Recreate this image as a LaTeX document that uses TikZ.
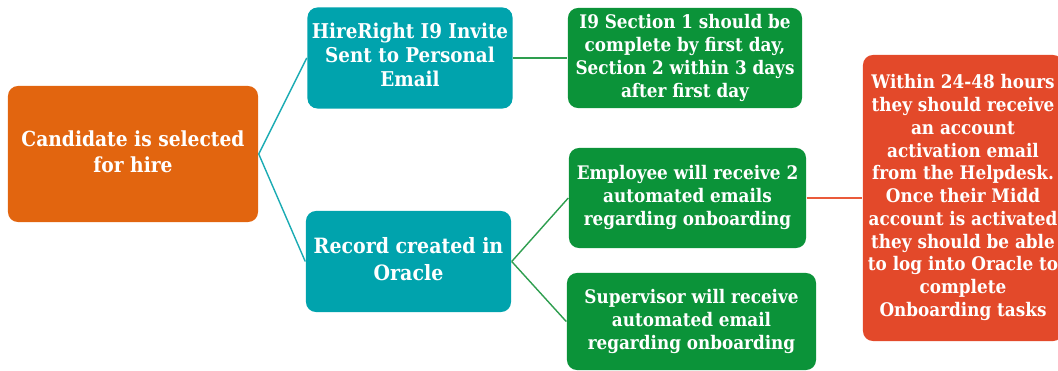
\documentclass[tikz,border=0pt]{standalone}
\usepackage{fontspec}
\setmainfont{DejaVu Serif Condensed}
\usepackage{tikz}
\usetikzlibrary{positioning,calc}

\setlength{\tabcolsep}{0pt}

\definecolor{candorange}{HTML}{E2650F}
\definecolor{stepteal}{HTML}{00A3AD}
\definecolor{notegreen}{HTML}{0B9339}
\definecolor{alertred}{HTML}{E3492A}
\definecolor{tealline}{HTML}{1AABB3}
\definecolor{greenline}{HTML}{2E9E4F}
\definecolor{redline}{HTML}{EA5A3A}

\tikzset{
    box/.style={rounded corners=0.25cm, text=white, inner sep=0pt, align=center},
    startbox/.style={box, fill=candorange, minimum width=6.25cm, minimum height=3.4cm,
        font=\bfseries\fontsize{14.75}{18.4}\selectfont},
    stepbox/.style={box, fill=stepteal, minimum width=5.125cm, minimum height=2.525cm,
        font=\bfseries\fontsize{14.5}{17}\selectfont},
    notebox/.style={box, fill=notegreen, minimum height=2.5cm,
        font=\bfseries\fontsize{13.3}{16.4}\selectfont},
    alertbox/.style={box, fill=alertred, minimum width=5cm, minimum height=7.15cm,
        font=\bfseries\fontsize{13.3}{16.2}\selectfont},
}

\begin{document}
\begin{tikzpicture}[x=0.025cm, y=-0.025cm, line width=1pt]

    \path[use as bounding box, clip] (0,0) rectangle (1058,370);

    \node[startbox] (cand) at (133,154) {\begin{tabular}{c} Candidate is selected \\ for hire \end{tabular}};

    \node[stepbox] (hire) at (410,58) {\begin{tabular}{c} HireRight I9 Invite \\ Sent to Personal \\ Email \end{tabular}};
    \node[stepbox, font=\bfseries\fontsize{15}{19}\selectfont] (rec) at (408.5,261.5) {\begin{tabular}{c} Record created in \\ Oracle \end{tabular}};

    \node[notebox, minimum width=5.85cm] (inv) at (685,58) {\begin{tabular}{c} I9 Section 1 should be \\ complete by first day, \\ Section 2 within 3 days \\ after first day \end{tabular}};
    \node[notebox, minimum width=5.925cm] (emp) at (687.5,198) {\begin{tabular}{c} Employee will receive 2 \\ automated emails \\ regarding onboarding \end{tabular}};
    \node[notebox, minimum width=6.225cm, minimum height=2.425cm] (sup) at (691.5,321.5) {\begin{tabular}{c} Supervisor will receive \\ automated email \\ regarding onboarding \end{tabular}};

    % text runs past the box sides here
    \node[alertbox] (act) at (963,198) {\makebox[5cm]{\begin{tabular}{c} Within 24-48 hours \\ they should receive \\ an account \\ activation email \\ from the Helpdesk. \\ Once their Midd \\ account is activated \\ they should be able \\ to log into Oracle to \\ complete \\ Onboarding tasks \end{tabular}}};

    % links between the boxes
    \path[-, draw=tealline] (cand.east) edge (hire.west);
    \path[-, draw=tealline] (cand.east) edge (rec.west);
    \path[-, draw=greenline] (hire.east) edge (inv.west);
    \path[-, draw=greenline] (rec.east) edge (emp.west);
    \path[-, draw=greenline] (rec.east) edge (sup.west);
    \path[-, draw=redline] (emp.east) edge (act.west);

\end{tikzpicture}
\end{document}
